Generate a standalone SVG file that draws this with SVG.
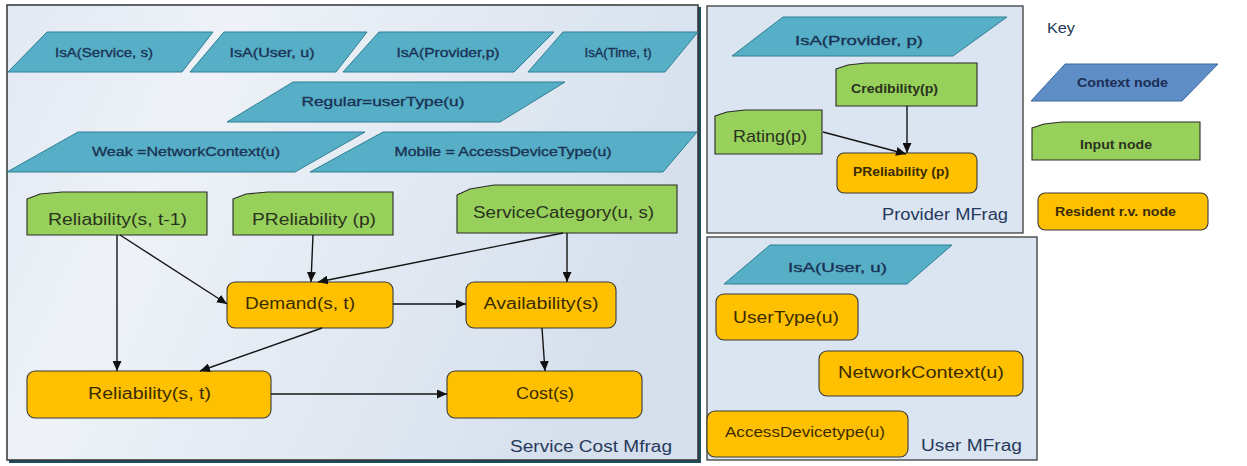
<svg xmlns="http://www.w3.org/2000/svg" width="1247" height="466" viewBox="0 0 1247 466">
  <style>
    text { font-family: "Liberation Sans", Arial, sans-serif; }
    .ctx { fill: #56afc6; stroke: #2f7f94; stroke-width: 1; }
    .ctxkey { fill: #5f8dc6; stroke: #3d6aa0; stroke-width: 1; }
    .inp { fill: #97d05a; stroke: #2b2b2b; stroke-width: 1.1; }
    .res { fill: #ffc000; stroke: #3a3a3a; stroke-width: 1.1; }
    .frame { fill: #dbe5f1; stroke: #3c3c3c; stroke-width: 1.3; }
    .tctx { fill: #1b3355; stroke: #1b3355; stroke-width: 0.35; font-size: 13px; text-anchor: middle; }
    .tin { fill: #2a3320; text-anchor: middle; }
    .tres { fill: #3a2c00; text-anchor: middle; }
    .tfr { fill: #26395c; font-size: 16px; }
    .edge { stroke: #151515; stroke-width: 1.4; fill: none; marker-end: url(#arrow); }
  </style>
  <defs>
    <marker id="arrow" markerUnits="userSpaceOnUse" markerWidth="11" markerHeight="9" refX="10" refY="4.5" orient="auto">
      <path d="M0,0 L10,4.5 L0,9 Z" fill="#111"/>
    </marker>
    <linearGradient id="mainBg" x1="0" y1="0" x2="1" y2="0.3">
      <stop offset="0" stop-color="#e2e9f3"/>
      <stop offset="0.3" stop-color="#eef2f8"/>
      <stop offset="1" stop-color="#d6e0ed"/>
    </linearGradient>
  </defs>

  <!-- Service Cost MFrag container -->
  <g id="frame-service">
    <rect x="9" y="7" width="692" height="456" fill="#1e4d5c"/>
    <rect x="7" y="5" width="691" height="455" fill="url(#mainBg)" stroke="#333" stroke-width="1.5"/>
    <text class="tfr" x="510" y="452" textLength="162" lengthAdjust="spacingAndGlyphs">Service Cost Mfrag</text>
  </g>

  <!-- Provider MFrag container -->
  <g id="frame-provider">
    <rect class="frame" x="707" y="6" width="316" height="227"/>
    <text class="tfr" x="882" y="220" textLength="126" lengthAdjust="spacingAndGlyphs">Provider MFrag</text>
  </g>

  <!-- User MFrag container -->
  <g id="frame-user">
    <rect class="frame" x="707" y="237" width="330" height="223"/>
    <text class="tfr" x="921" y="451" textLength="101" lengthAdjust="spacingAndGlyphs">User MFrag</text>
  </g>

  <!-- context nodes: Service Cost MFrag -->
  <g id="ctx-service">
    <polygon class="ctx" points="47,32 213,32 182,72 8,72"/>
    <text class="tctx" x="104" y="57" textLength="98" lengthAdjust="spacingAndGlyphs">IsA(Service, s)</text>
  </g>
  <g id="ctx-user">
    <polygon class="ctx" points="224,32 367,32 336,72 190,72"/>
    <text class="tctx" x="272" y="57" textLength="85" lengthAdjust="spacingAndGlyphs">IsA(User, u)</text>
  </g>
  <g id="ctx-provider">
    <polygon class="ctx" points="379,32 554,32 514,72 343,72"/>
    <text class="tctx" x="448" y="57" textLength="103" lengthAdjust="spacingAndGlyphs">IsA(Provider,p)</text>
  </g>
  <g id="ctx-time">
    <polygon class="ctx" points="563,32 698,32 665,72 528,72"/>
    <text class="tctx" x="618" y="57" textLength="67" lengthAdjust="spacingAndGlyphs">IsA(Time, t)</text>
  </g>
  <g id="ctx-regular">
    <polygon class="ctx" points="293,82 565,82 500,122 227,122"/>
    <text class="tctx" x="383" y="106" textLength="163" lengthAdjust="spacingAndGlyphs">Regular=userType(u)</text>
  </g>
  <g id="ctx-weak">
    <polygon class="ctx" points="78,132 365,132 295,172 7,172"/>
    <text class="tctx" x="186" y="156" textLength="188" lengthAdjust="spacingAndGlyphs">Weak =NetworkContext(u)</text>
  </g>
  <g id="ctx-mobile">
    <polygon class="ctx" points="383,132 697,132 663,172 310,172"/>
    <text class="tctx" x="503" y="156" textLength="217" lengthAdjust="spacingAndGlyphs">Mobile = AccessDeviceType(u)</text>
  </g>

  <!-- input nodes: Service Cost MFrag -->
  <g id="in-reliability-prev">
    <path class="inp" d="M27,199 L40,194 L62,192 L207,192 L207,235 L27,235 Z"/>
    <text class="tin" x="117.5" y="225" font-size="16" textLength="139" lengthAdjust="spacingAndGlyphs">Reliability(s, t-1)</text>
  </g>
  <g id="in-preliability">
    <path class="inp" d="M233,199 L246,194 L268,192 L393,192 L393,235 L233,235 Z"/>
    <text class="tin" x="314" y="225" font-size="16" textLength="124" lengthAdjust="spacingAndGlyphs">PReliability (p)</text>
  </g>
  <g id="in-servicecategory">
    <path class="inp" d="M457,195 L470,189 L494,185 L677,185 L677,233 L457,233 Z"/>
    <text class="tin" x="563.5" y="218" font-size="16" textLength="181" lengthAdjust="spacingAndGlyphs">ServiceCategory(u, s)</text>
  </g>

  <!-- resident nodes: Service Cost MFrag -->
  <g id="res-demand">
    <rect class="res" x="227" y="282" width="166" height="46" rx="8"/>
    <text class="tres" x="300" y="309" font-size="16" textLength="110" lengthAdjust="spacingAndGlyphs">Demand(s, t)</text>
  </g>
  <g id="res-availability">
    <rect class="res" x="466" y="282" width="150" height="46" rx="8"/>
    <text class="tres" x="541" y="309" font-size="16" textLength="115" lengthAdjust="spacingAndGlyphs">Availability(s)</text>
  </g>
  <g id="res-reliability">
    <rect class="res" x="27" y="371" width="244" height="47" rx="8"/>
    <text class="tres" x="149.5" y="399" font-size="16" textLength="123" lengthAdjust="spacingAndGlyphs">Reliability(s, t)</text>
  </g>
  <g id="res-cost">
    <rect class="res" x="447" y="371" width="195" height="47" rx="8"/>
    <text class="tres" x="545" y="399" font-size="16" textLength="58" lengthAdjust="spacingAndGlyphs">Cost(s)</text>
  </g>

  <!-- Provider MFrag nodes -->
  <g id="ctx-provider-p">
    <polygon class="ctx" points="783,17 1007,17 953,56 732,56"/>
    <text class="tctx" x="859" y="45" font-size="17" textLength="128" lengthAdjust="spacingAndGlyphs">IsA(Provider, p)</text>
  </g>
  <g id="in-credibility">
    <path class="inp" d="M836,69 L848,65 L866,63 L977,63 L977,106 L836,106 Z"/>
    <text class="tin" x="894.5" y="93" font-size="12" font-weight="bold" textLength="87" lengthAdjust="spacingAndGlyphs">Credibility(p)</text>
  </g>
  <g id="in-rating">
    <path class="inp" d="M715,116 L727,112 L745,110 L822,110 L822,154 L715,154 Z"/>
    <text class="tin" x="770" y="142" font-size="17" textLength="74" lengthAdjust="spacingAndGlyphs">Rating(p)</text>
  </g>
  <g id="res-preliability">
    <rect class="res" x="837" y="153" width="140" height="40" rx="7"/>
    <text class="tres" x="901" y="176" font-size="12" font-weight="bold" textLength="96" lengthAdjust="spacingAndGlyphs">PReliability (p)</text>
  </g>

  <!-- User MFrag nodes -->
  <g id="ctx-user-u">
    <polygon class="ctx" points="770,245 952,245 907,284 724,284"/>
    <text class="tctx" x="837.5" y="272" font-size="17" textLength="99" lengthAdjust="spacingAndGlyphs">IsA(User, u)</text>
  </g>
  <g id="res-usertype">
    <rect class="res" x="716" y="294" width="142" height="46" rx="8"/>
    <text class="tres" x="786" y="323" font-size="16" textLength="106" lengthAdjust="spacingAndGlyphs">UserType(u)</text>
  </g>
  <g id="res-networkcontext">
    <rect class="res" x="819" y="351" width="204" height="45" rx="8"/>
    <text class="tres" x="921" y="378" font-size="16" textLength="166" lengthAdjust="spacingAndGlyphs">NetworkContext(u)</text>
  </g>
  <g id="res-accessdevicetype">
    <rect class="res" x="707" y="411" width="201" height="46" rx="8"/>
    <text class="tres" x="805" y="437" font-size="14" textLength="160" lengthAdjust="spacingAndGlyphs">AccessDevicetype(u)</text>
  </g>

  <!-- Key -->
  <g id="key">
    <text x="1047" y="33" font-size="15" fill="#26395c" textLength="28" lengthAdjust="spacingAndGlyphs">Key</text>
  </g>
  <g id="key-context">
    <polygon class="ctxkey" points="1065,64 1218,64 1182,101 1031,101"/>
    <text x="1122.5" y="87" font-size="12" font-weight="bold" fill="#1b2f55" text-anchor="middle" textLength="91" lengthAdjust="spacingAndGlyphs">Context node</text>
  </g>
  <g id="key-input">
    <path class="inp" d="M1032,128 L1044,124 L1062,122 L1200,122 L1200,160 L1032,160 Z"/>
    <text class="tin" x="1116" y="149" font-size="12" font-weight="bold" textLength="72" lengthAdjust="spacingAndGlyphs">Input node</text>
  </g>
  <g id="key-resident">
    <rect class="res" x="1038" y="193" width="170" height="37" rx="7"/>
    <text class="tres" x="1115.5" y="216" font-size="12" font-weight="bold" textLength="121" lengthAdjust="spacingAndGlyphs">Resident r.v. node</text>
  </g>

  <!-- connectors -->
  <g id="connectors">
    <path class="edge" d="M117,235 L117,371"/>
    <path class="edge" d="M120,235 L227,304"/>
    <path class="edge" d="M313,235 L311,282"/>
    <path class="edge" d="M563,233 L318,282"/>
    <path class="edge" d="M567,233 L567,282"/>
    <path class="edge" d="M393,304 L466,304"/>
    <path class="edge" d="M322,328 L200,371"/>
    <path class="edge" d="M271,394 L447,394"/>
    <path class="edge" d="M542,328 L545,371"/>
    <path class="edge" d="M907,106 L907,153"/>
    <path class="edge" d="M823,132 L906,154"/>
  </g>
</svg>
